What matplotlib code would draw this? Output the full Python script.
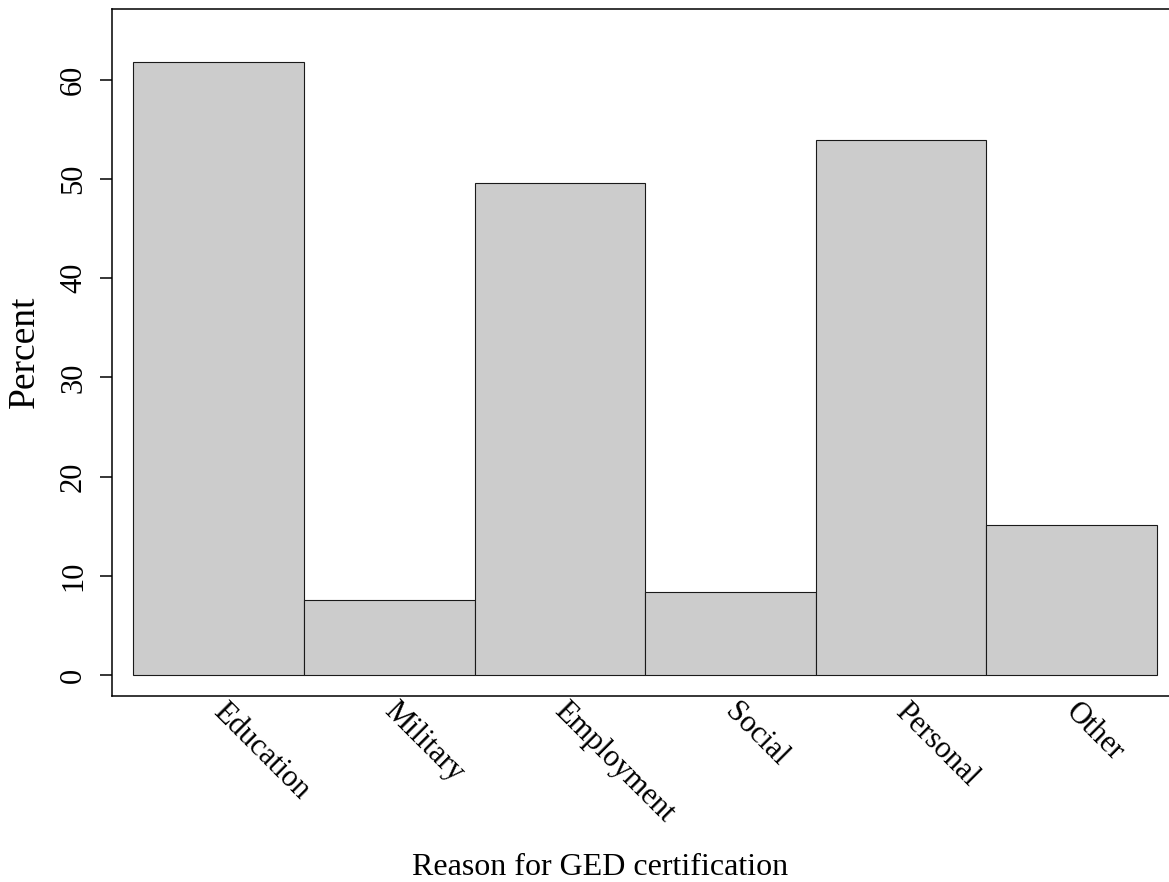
import matplotlib.pyplot as plt
import matplotlib.transforms as mtransforms
import numpy as np

reasons = ["Education", "Military", "Employment", "Social", "Personal", "Other"]
percent = [61.8, 7.6, 49.6, 8.4, 53.9, 15.1]
y_ticks = [0, 10, 20, 30, 40, 50, 60]

plt.rcParams['font.family'] = ['Liberation Serif', 'DejaVu Serif']

fig = plt.figure(figsize=(11.69, 8.82), dpi=100)
ax = fig.add_axes([0.0961, 0.2109, 0.9116, 0.7789])

x = np.arange(len(reasons)) + 0.5
ax.bar(x, percent, width=1.0, color="#cccccc", edgecolor="#1a1a1a", linewidth=0.8)

ax.set_xlim(-0.123, 6.123)
ax.set_ylim(-2.07, 67.1)

ax.set_yticks(y_ticks)
ax.set_yticklabels([str(t) for t in y_ticks], rotation=90, va='center', fontsize=22)
ax.tick_params(axis='y', length=9, width=1.1, pad=8.5)

# category labels drawn as rotated text below the axis
ax.set_xticks([])
trans = mtransforms.blended_transform_factory(ax.transData, ax.transAxes)
trans = mtransforms.offset_copy(trans, fig=fig, x=9, y=-1, units='dots')
for xi, lab in zip(x, reasons):
    ax.text(xi, 0, lab, transform=trans, rotation=-45, ha='left', va='top',
            rotation_mode='anchor', fontsize=22, clip_on=False)

for s in ax.spines.values():
    s.set_linewidth(1.1)

fig.text(25 / 1169, 1 - 352 / 882, "Percent", rotation=90, fontsize=27,
         ha='center', va='center')
fig.text(600 / 1169, 1 - 875 / 882, "Reason for GED certification", fontsize=23,
         ha='center', va='baseline')

fig.savefig("out.png", dpi=100)
